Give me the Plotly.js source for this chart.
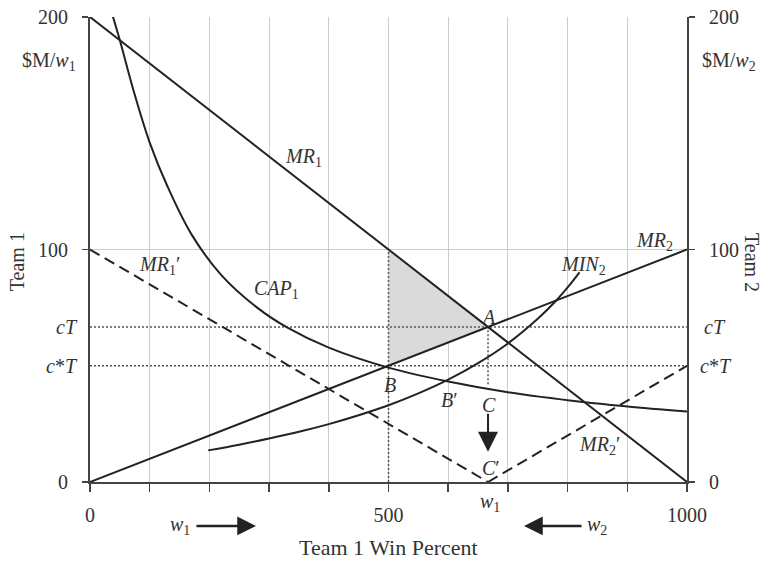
<!DOCTYPE html>
<html>
<head>
<meta charset="utf-8">
<script src="https://cdn.plot.ly/plotly-3.0.1.min.js"></script>
<style>html,body{margin:0;padding:0;background:#fff;}#chart{width:766px;height:568px;}</style>
</head>
<body>
<div id="chart"></div>
<script>
// ---- data ----
const cT = 66.67;
const cStarT = 50;
const wEq = 666.7;

const mr1X = [0, 1000];
const mr1Y = [200, 0];
const mr2X = [0, 1000];
const mr2Y = [0, 100];
const mr1pX = [0, 666.7];
const mr1pY = [100, 0];
const mr2pX = [666.7, 1000];
const mr2pY = [0, 50];

const cap1X = [38, 50, 75, 100, 130, 170, 220, 280, 330, 400, 500, 600, 700, 826, 900, 1000];
const cap1Y = [200.5, 190, 166.5, 146, 127, 106.5, 89, 75, 66.5, 57.8, 49.2, 43.2, 38.6, 34.4, 32.5, 30.3];

const min2X = [198, 250, 300, 350, 400, 450, 500, 550, 600, 650, 700, 750, 779, 800, 820];
const min2Y = [13.6, 16.05, 18.7, 21.6, 24.9, 28.7, 33.0, 38.1, 44.0, 51.1, 59.6, 70.2, 77.5, 83.7, 90.2];

const shadeX = [500, 666.7, 500, 500];
const shadeY = [100, 66.67, 50, 100];

const xTickVals = [0, 100, 200, 300, 400, 500, 600, 700, 800, 900, 1000];
const xTickText = ['0', '', '', '', '', '500', '', '', '', '', '1000'];
const yTickVals = [0, 100, 200];
const yTickText = ['0', '100', '200'];

// ---- styling ----
const SERIF = 'Liberation Serif, Times New Roman, serif';
const INK = '#222';
const AX = '#444';
const solid = {color: INK, width: 2};
const dotted = {color: '#555', width: 1.5, dash: '2px,2px'};

const traces = [
  {x: shadeX, y: shadeY, mode: 'lines', fill: 'toself', fillcolor: '#dadada', line: {width: 0}, hoverinfo: 'skip'},
  {x: [0, 1000], y: [cT, cT], mode: 'lines', line: dotted},
  {x: [0, 1000], y: [cStarT, cStarT], mode: 'lines', line: dotted},
  {x: [500, 500], y: [0, 100], mode: 'lines', line: dotted},
  {x: [wEq, wEq], y: [42, cT], mode: 'lines', line: dotted},
  {x: mr1X, y: mr1Y, mode: 'lines', line: solid},
  {x: mr2X, y: mr2Y, mode: 'lines', line: solid},
  {x: mr1pX, y: mr1pY, mode: 'lines', line: {color: INK, width: 2, dash: '11px,6px'}},
  {x: mr2pX, y: mr2pY, mode: 'lines', line: {color: INK, width: 2, dash: '11px,6px'}},
  {x: cap1X, y: cap1Y, mode: 'lines', line: {color: INK, width: 2, shape: 'spline', smoothing: 1}},
  {x: min2X, y: min2Y, mode: 'lines', line: {color: INK, width: 2, shape: 'spline', smoothing: 1}},
  {x: [0], y: [0], yaxis: 'y2', mode: 'markers', marker: {opacity: 0}, hoverinfo: 'skip'}
];

const f = {family: SERIF, size: 20, color: '#333'};
function lab(text, x, y, extra) {
  return Object.assign({text: text, x: x, y: y, xref: 'x', yref: 'y', showarrow: false, font: f,
    xanchor: 'center', yanchor: 'middle'}, extra || {});
}

const annotations = [
  lab('<i>MR</i><sub>1</sub>', 357, 139.7),
  lab('<i>MR</i><sub>1</sub>′', 116, 93.3),
  lab('<i>CAP</i><sub>1</sub>', 312, 83),
  lab('<i>MR</i><sub>2</sub>', 946, 103.6),
  lab('<i>MIN</i><sub>2</sub>', 826, 93.3),
  lab('<i>A</i>', 666.7, 71),
  lab('<i>B</i>', 502, 41.8),
  lab('<i>B</i>′', 602, 35.4),
  lab('<i>C</i>', 668, 33.2),
  lab('<i>C</i>′', 671, 6.1),
  lab('<i>MR</i><sub>2</sub>′', 854, 15.6),
  // C -> C' arrow
  {x: wEq, y: 13, ax: wEq, ay: 30, xref: 'x', yref: 'y', axref: 'x', ayref: 'y', text: '',
   showarrow: true, arrowhead: 2, arrowsize: 2, arrowwidth: 2, arrowcolor: INK},
  // left / right labels
  {text: '<i>cT</i>', xref: 'paper', yref: 'y', x: -0.017, y: cT, xanchor: 'right', yanchor: 'middle', showarrow: false, font: f},
  {text: '<i>c</i>*<i>T</i>', xref: 'paper', yref: 'y', x: -0.017, y: cStarT, xanchor: 'right', yanchor: 'middle', showarrow: false, font: f},
  {text: '<i>cT</i>', xref: 'paper', yref: 'y', x: 1.025, y: cT, xanchor: 'left', yanchor: 'middle', showarrow: false, font: f},
  {text: '<i>c</i>*<i>T</i>', xref: 'paper', yref: 'y', x: 1.018, y: cStarT, xanchor: 'left', yanchor: 'middle', showarrow: false, font: f},
  {text: '$M/<i>w</i><sub>1</sub>', xref: 'paper', yref: 'y', x: -0.02, y: 181, xanchor: 'right', yanchor: 'middle', showarrow: false, font: f},
  {text: '$M/<i>w</i><sub>2</sub>', xref: 'paper', yref: 'y', x: 1.022, y: 181, xanchor: 'left', yanchor: 'middle', showarrow: false, font: f},
  {text: 'Team 1', xref: 'paper', yref: 'paper', x: -0.122, y: 0.473, textangle: -90, xanchor: 'center', yanchor: 'middle', showarrow: false, font: f},
  {text: 'Team 2', xref: 'paper', yref: 'paper', x: 1.109, y: 0.473, textangle: 90, xanchor: 'center', yanchor: 'middle', showarrow: false, font: f},
  // bottom
  {text: '<i>w</i><sub>1</sub>', xref: 'x', yref: 'paper', x: 670, y: -0.045, xanchor: 'center', yanchor: 'middle', showarrow: false, font: f},
  {text: '<i>w</i><sub>1</sub>', xref: 'x', yref: 'paper', x: 151, y: -0.094, xanchor: 'center', yanchor: 'middle', showarrow: false, font: f},
  {text: '', xref: 'x', yref: 'paper', x: 278, y: -0.0946, ax: -61, ay: 0, showarrow: true, arrowhead: 2, arrowsize: 1.5, arrowwidth: 2.5, arrowcolor: INK},
  {text: '<i>w</i><sub>2</sub>', xref: 'x', yref: 'paper', x: 850, y: -0.094, xanchor: 'center', yanchor: 'middle', showarrow: false, font: f},
  {text: '', xref: 'x', yref: 'paper', x: 727, y: -0.0946, ax: 59, ay: 0, showarrow: true, arrowhead: 2, arrowsize: 1.5, arrowwidth: 2.5, arrowcolor: INK},
  {text: 'Team 1 Win Percent', xref: 'paper', yref: 'paper', x: 0.5, y: -0.14, xanchor: 'center', yanchor: 'middle', showarrow: false,
   font: {family: SERIF, size: 22, color: '#333'}}
];

const yax = {
  range: [0, 200], tickvals: yTickVals, ticktext: yTickText, ticks: 'outside', ticklen: 6, tickwidth: 1.5,
  tickcolor: AX, showline: true, linecolor: AX, linewidth: 2, zeroline: false, tickfont: f,
  showgrid: true, gridcolor: '#cccccc', gridwidth: 1, fixedrange: true, ticklabelstandoff: 10
};

const layout = {
  width: 766, height: 568,
  margin: {l: 90, r: 79, t: 17, b: 86},
  paper_bgcolor: '#fff', plot_bgcolor: '#fff',
  showlegend: false,
  xaxis: {
    range: [0, 1000], tickvals: xTickVals, ticktext: xTickText, ticks: 'outside', ticklen: 8, tickwidth: 1.5,
    tickcolor: AX, showline: true, linecolor: AX, linewidth: 2, zeroline: false, tickfont: f,
    showgrid: true, gridcolor: '#cccccc', gridwidth: 1, fixedrange: true, ticklabelstandoff: 6
  },
  yaxis: yax,
  yaxis2: Object.assign({}, yax, {overlaying: 'y', side: 'right', showgrid: false}),
  annotations: annotations
};

Plotly.newPlot('chart', traces, layout, {staticPlot: true, displayModeBar: false});
</script>
</body>
</html>
